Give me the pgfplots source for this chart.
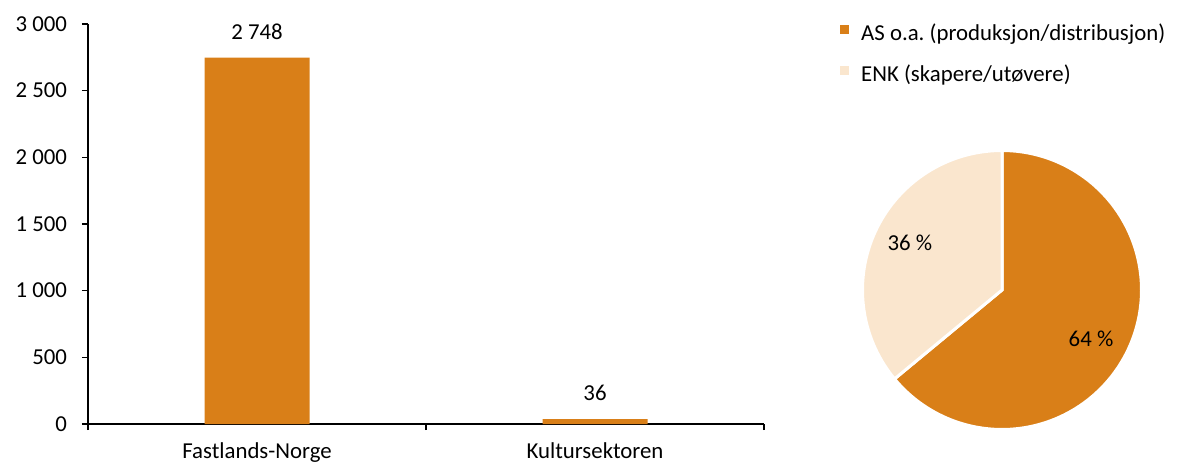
\documentclass[border=0pt]{standalone}
\usepackage{fontspec}
\setmainfont{Carlito}
\usepackage{pgfplots}
\usepackage{pgfplotstable}
\pgfplotsset{compat=1.18}

\definecolor{orangeA}{RGB}{217,127,24}
\definecolor{lightA}{RGB}{250,230,206}

% bar values
\pgfplotstableread{
x y label
0 2748 {2 748}
1 36 36
}\bardata

% pie shares (percent)
\def\shareAS{64}
\def\shareENK{36}

\begin{document}
\frenchspacing
\begin{tikzpicture}[font=\fontsize{11.4bp}{13.6bp}\selectfont]
\path[use as bounding box] (0,0) rectangle (589bp,232.5bp);

\begin{axis}[
  at={(44bp,20.5bp)}, anchor=south west,
  width=338bp, height=200bp, scale only axis,
  ybar, bar width=52.5bp,
  xmin=-0.5, xmax=1.5, ymin=0, ymax=3000,
  axis x line=bottom, axis y line=left,
  axis line style={-, black, line width=0.75bp},
  tick align=outside,
  major tick length=3bp,
  tick style={black, line width=0.75bp},
  ytick={0,500,...,3000},
  yticklabels={0,500,1 000,1 500,2 000,2 500,3 000},
  yticklabel style={xshift=-4bp},
  xtick={-0.5,0.5,1.5}, xticklabels={},
  extra x ticks={0,1},
  extra x tick labels={Fastlands-Norge,Kultursektoren},
  extra x tick style={major tick length=0pt, tick style={draw=none},
    xticklabel style={yshift=-5.8bp}},
  clip=false,
]
\addplot[fill=orangeA, draw=none,
  nodes near coords, point meta=explicit symbolic,
  every node near coord/.append style={anchor=south, inner sep=0pt, yshift=9bp, black}]
  table[x=x, y=y, meta=label] {\bardata};
\end{axis}

\begin{axis}[
  at={(501bp,87.5bp)}, anchor=center,
  width=139.5bp, height=139.5bp, scale only axis,
  xmin=-1, xmax=1, ymin=-1, ymax=1,
  hide axis, clip=false,
  legend style={at={(-0.102,1.468)}, anchor=north west, draw=none, fill=none,
    legend cell align=left, row sep=10bp, column sep=6bp,
    nodes={inner sep=0pt, text height=8bp, text depth=2.5bp}},
]
\pgfmathsetmacro\angA{90-3.6*\shareAS}
\addplot[fill=orangeA, draw=white, line width=1.5bp, domain=\angA:90, samples=121, forget plot]
  ({cos(x)},{sin(x)}) -- (0,0) -- cycle;
\addplot[fill=lightA, draw=white, line width=1.5bp, domain=90:90+3.6*\shareENK, samples=121, forget plot]
  ({cos(x)},{sin(x)}) -- (0,0) -- cycle;
\node at (axis cs:0.638,-0.351) {64 \%};
\node at (axis cs:-0.66,0.337) {36 \%};
\addlegendimage{legend image code/.code={\fill[orangeA] (0bp,0.5bp) rectangle (4bp,4.5bp);}}
\addlegendentry{AS o.a. (produksjon/distribusjon)}
\addlegendimage{legend image code/.code={\fill[lightA] (0bp,0.5bp) rectangle (4bp,4.5bp);}}
\addlegendentry{ENK (skapere/utøvere)}
\end{axis}
\end{tikzpicture}
\end{document}
